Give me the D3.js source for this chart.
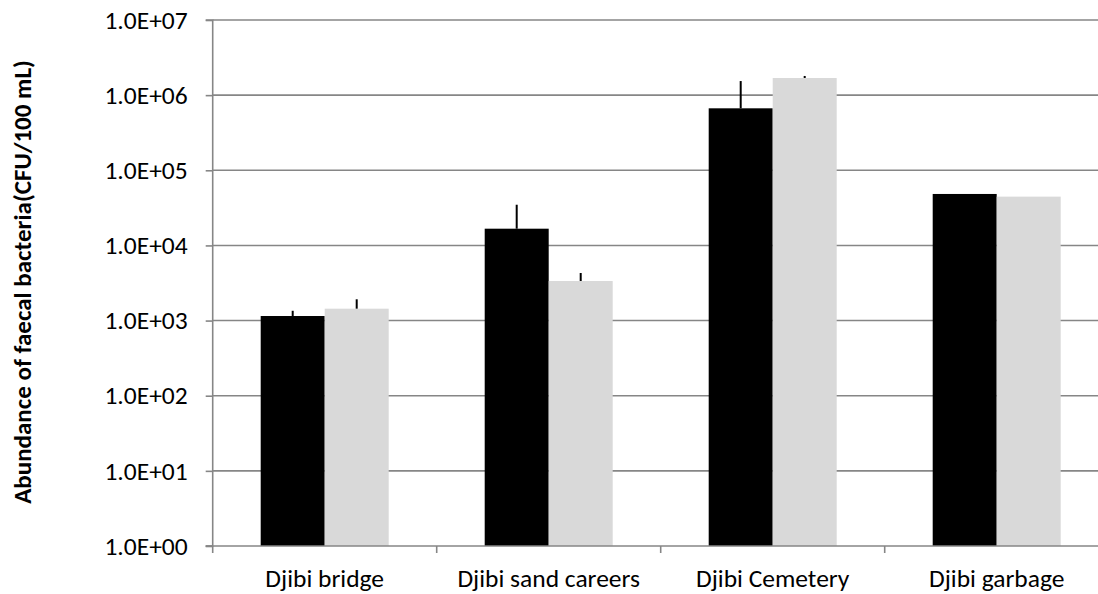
<!DOCTYPE html>
<html>
<head>
<meta charset="utf-8">
<script src="https://cdn.jsdelivr.net/npm/d3@7"></script>
<style>
  html, body { margin: 0; padding: 0; background: #fff; }
  svg { display: block; font-family: Carlito, Lato, "Open Sans", sans-serif; }
</style>
</head>
<body>
<svg id="chart" width="1098" height="594"></svg>
<script>
// Sampling sites along the x axis
const categories = ["Djibi bridge", "Djibi sand careers", "Djibi Cemetery", "Djibi garbage"];
// Two series of faecal bacteria counts (CFU/100 mL)
const seriesA = [1150, 16700, 668000, 48400];
const seriesB = [1440, 3360, 1690000, 44600];
// Upper error-bar ends for each series
const errA = [1350, 34800, 1540000, 48400];
const errB = [1920, 4300, 1800000, 44600];
// Log-scale tick values and their labels
const tickValues = [1, 10, 100, 1000, 10000, 100000, 1000000, 10000000];
const tickLabels = ["1.0E+00", "1.0E+01", "1.0E+02", "1.0E+03", "1.0E+04", "1.0E+05", "1.0E+06", "1.0E+07"];
const seriesColors = ["#000000", "#d9d9d9"];

const svg = d3.select("#chart");
const plotLeft = 212.7, plotRight = 1108.7, plotTop = 20, plotBottom = 546;
const labelFont = "Carlito, Lato, sans-serif";

const x = d3.scaleBand().domain(categories).range([plotLeft, plotRight]).paddingInner(0).paddingOuter(0);
const inner = d3.scaleBand().domain([0, 1]).range([0, x.bandwidth()]).paddingInner(0).paddingOuter(0.75);
const y = d3.scaleLog().domain([1, 1e7]).range([plotBottom, plotTop]);

const gridColor = "#868686";

// Horizontal gridlines
svg.append("g")
  .selectAll("line")
  .data(tickValues.slice(1))
  .join("line")
  .attr("x1", plotLeft).attr("x2", 1098)
  .attr("y1", d => y(d)).attr("y2", d => y(d))
  .attr("stroke", gridColor).attr("stroke-width", 1.6);

// Y axis
const yAxis = d3.axisLeft(y)
  .tickValues(tickValues)
  .tickFormat((d, i) => tickLabels[i])
  .tickSize(7)
  .tickPadding(18);
const gy = svg.append("g").attr("transform", `translate(${plotLeft},0)`).call(yAxis);
gy.attr("font-size", null).attr("font-family", null);
gy.select(".domain").attr("stroke", gridColor).attr("stroke-width", 1.6).attr("d", `M-7,${plotTop}H0V${plotBottom}H-7`);
gy.selectAll(".tick line").attr("stroke", gridColor).attr("stroke-width", 1.6);
gy.selectAll(".tick text").attr("fill", "#000").style("font-size", "25.5px").style("font-family", labelFont);

// Bars
const groups = svg.append("g")
  .selectAll("g")
  .data(categories)
  .join("g")
  .attr("transform", d => `translate(${x(d)},0)`);

const barData = (c, i) => [
  { s: 0, v: seriesA[i], e: errA[i] },
  { s: 1, v: seriesB[i], e: errB[i] }
];

groups.selectAll("rect")
  .data(barData)
  .join("rect")
  .attr("x", d => inner(d.s))
  .attr("width", inner.bandwidth())
  .attr("y", d => y(d.v))
  .attr("height", d => plotBottom - y(d.v))
  .attr("fill", d => seriesColors[d.s]);

// Error bars (plus direction)
groups.selectAll("line.err")
  .data(barData)
  .join("line")
  .attr("class", "err")
  .attr("x1", d => inner(d.s) + inner.bandwidth() / 2)
  .attr("x2", d => inner(d.s) + inner.bandwidth() / 2)
  .attr("y1", d => y(d.v))
  .attr("y2", d => y(d.e))
  .attr("stroke", "#000").attr("stroke-width", 2);

// X axis
const xAxis = d3.axisBottom(x).tickSize(0).tickPadding(0);
const gx = svg.append("g").attr("transform", `translate(0,${plotBottom})`).call(xAxis);
gx.attr("font-size", null).attr("font-family", null);
gx.select(".domain").remove();
gx.append("line").attr("x1", plotLeft - 7).attr("x2", 1098).attr("y1", 0).attr("y2", 0)
  .attr("stroke", gridColor).attr("stroke-width", 1.6);
gx.selectAll(".boundary")
  .data(categories)
  .join("line")
  .attr("class", "boundary")
  .attr("x1", d => x(d)).attr("x2", d => x(d))
  .attr("y1", 0).attr("y2", 7)
  .attr("stroke", gridColor).attr("stroke-width", 1.6);
gx.selectAll(".tick text")
  .attr("fill", "#000")
  .attr("dy", 0)
  .attr("y", 41)
  .style("font-size", "25.5px")
  .style("font-family", labelFont);

// Y axis title
svg.append("text")
  .attr("transform", `translate(31,282) rotate(-90)`)
  .attr("text-anchor", "middle")
  .style("font-size", "25px")
  .style("font-weight", "bold")
  .style("font-family", labelFont)
  .text("Abundance of faecal bacteria(CFU/100 mL)");
</script>
</body>
</html>
